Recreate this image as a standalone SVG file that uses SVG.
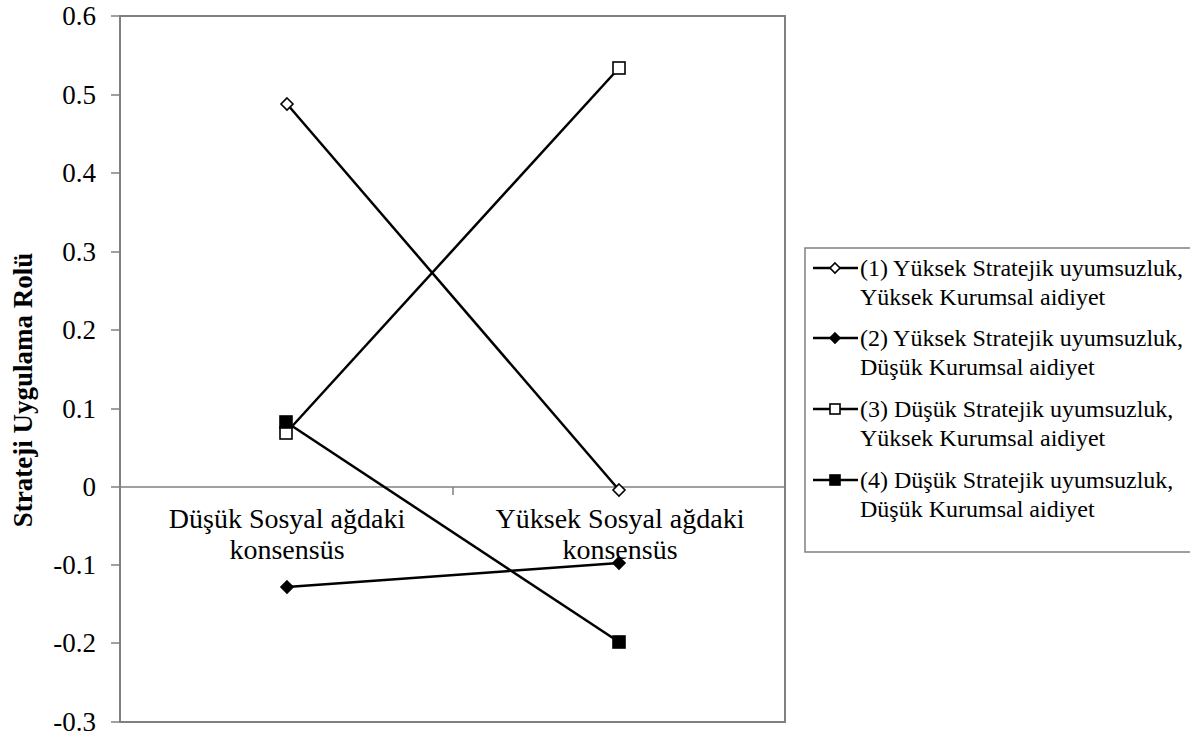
<svg xmlns="http://www.w3.org/2000/svg" width="1190" height="740" viewBox="0 0 1190 740">
<style>
.t{font-family:"Liberation Serif","Times New Roman",serif;fill:#000}
.frame{fill:#fff;stroke:#808080;stroke-width:2}
.tick{stroke:#808080;stroke-width:1.5}
.ser{fill:none;stroke:#000;stroke-width:2.5}
.od{fill:#fff;stroke:#000;stroke-width:1.6}
.fd{fill:#000;stroke:#000;stroke-width:1.6}
</style>
<defs>
<path id="dia" d="M0,-6 L6,0 L0,6 L-6,0 Z"/>
<rect id="sq" x="-6" y="-6" width="12" height="12"/>
<path id="dias" d="M0,-5 L5,0 L0,5 L-5,0 Z"/>
<rect id="sqs" x="-5" y="-5" width="10" height="10"/>
</defs>
<rect width="1190" height="740" fill="#fff"/>
<g id="plot-area">
<rect class="frame" x="120" y="16" width="665" height="706"/>
<line class="tick" x1="120" y1="487" x2="785" y2="487"/>
<line class="tick" x1="453" y1="487" x2="453" y2="495"/>
</g>
<g id="y-axis">
<g class="tick">
<line x1="111" y1="16" x2="120" y2="16"/><line x1="111" y1="95" x2="120" y2="95"/>
<line x1="111" y1="173" x2="120" y2="173"/><line x1="111" y1="252" x2="120" y2="252"/>
<line x1="111" y1="330" x2="120" y2="330"/><line x1="111" y1="409" x2="120" y2="409"/>
<line x1="111" y1="487" x2="120" y2="487"/><line x1="111" y1="565" x2="120" y2="565"/>
<line x1="111" y1="643" x2="120" y2="643"/><line x1="111" y1="722" x2="120" y2="722"/>
</g>
<g font-family="Liberation Serif, Times New Roman, serif" font-size="27" text-anchor="end" fill="#000">
<text x="96" y="25">0.6</text><text x="96" y="104">0.5</text>
<text x="96" y="182">0.4</text><text x="96" y="261">0.3</text>
<text x="96" y="339">0.2</text><text x="96" y="418">0.1</text>
<text x="96" y="496">0</text><text x="96" y="574">-0.1</text>
<text x="96" y="652">-0.2</text><text x="96" y="731">-0.3</text>
</g>
<text font-family="Liberation Serif, Times New Roman, serif" transform="translate(32,390) rotate(-90)" text-anchor="middle" font-size="27" font-weight="bold" fill="#000">Strateji Uygulama Rolü</text>
</g>
<g id="x-axis" font-family="Liberation Serif, Times New Roman, serif" font-size="28" text-anchor="middle" fill="#000">
<text x="287" y="528">Düşük Sosyal ağdaki</text>
<text x="287" y="559">konsensüs</text>
<text x="620" y="528">Yüksek Sosyal ağdaki</text>
<text x="620" y="559">konsensüs</text>
</g>
<g id="connectors">
<polyline class="ser" points="287,104 619,490"/>
<polyline class="ser" points="287,587 619,563"/>
<polyline class="ser" points="286,433 619,68"/>
<polyline class="ser" points="286,422 619,642"/>
</g>
<g id="series1"><use href="#dia" class="od" x="287" y="104"/><use href="#dia" class="od" x="619" y="490"/></g>
<g id="series2"><use href="#dia" class="fd" x="287" y="587"/><use href="#dia" class="fd" x="619" y="563"/></g>
<g id="series3"><use href="#sq" class="od" x="286" y="433"/><use href="#sq" class="od" x="619" y="68"/></g>
<g id="series4"><use href="#sq" class="fd" x="286" y="422"/><use href="#sq" class="fd" x="619" y="642"/></g>
<g id="legend" font-family="Liberation Serif, Times New Roman, serif" font-size="24" fill="#000">
<rect x="805" y="248" width="390" height="304" fill="#fff" stroke="#808080" stroke-width="1.5"/>
<g id="legend1">
<line class="ser" x1="813" y1="268" x2="858" y2="268"/><use href="#dias" class="od" x="835" y="268"/>
<text x="860" y="276">(1) Yüksek Stratejik uyumsuzluk,</text>
<text x="860" y="305">Yüksek Kurumsal aidiyet</text>
</g>
<g id="legend2">
<line class="ser" x1="813" y1="338" x2="858" y2="338"/><use href="#dias" class="fd" x="835" y="338"/>
<text x="860" y="346">(2) Yüksek Stratejik uyumsuzluk,</text>
<text x="860" y="375">Düşük Kurumsal aidiyet</text>
</g>
<g id="legend3">
<line class="ser" x1="813" y1="409" x2="858" y2="409"/><use href="#sqs" class="od" x="835" y="409"/>
<text x="860" y="417">(3) Düşük Stratejik uyumsuzluk,</text>
<text x="860" y="446">Yüksek Kurumsal aidiyet</text>
</g>
<g id="legend4">
<line class="ser" x1="813" y1="480" x2="858" y2="480"/><use href="#sqs" class="fd" x="835" y="480"/>
<text x="860" y="488">(4) Düşük Stratejik uyumsuzluk,</text>
<text x="860" y="517">Düşük Kurumsal aidiyet</text>
</g>
</g>
</svg>
